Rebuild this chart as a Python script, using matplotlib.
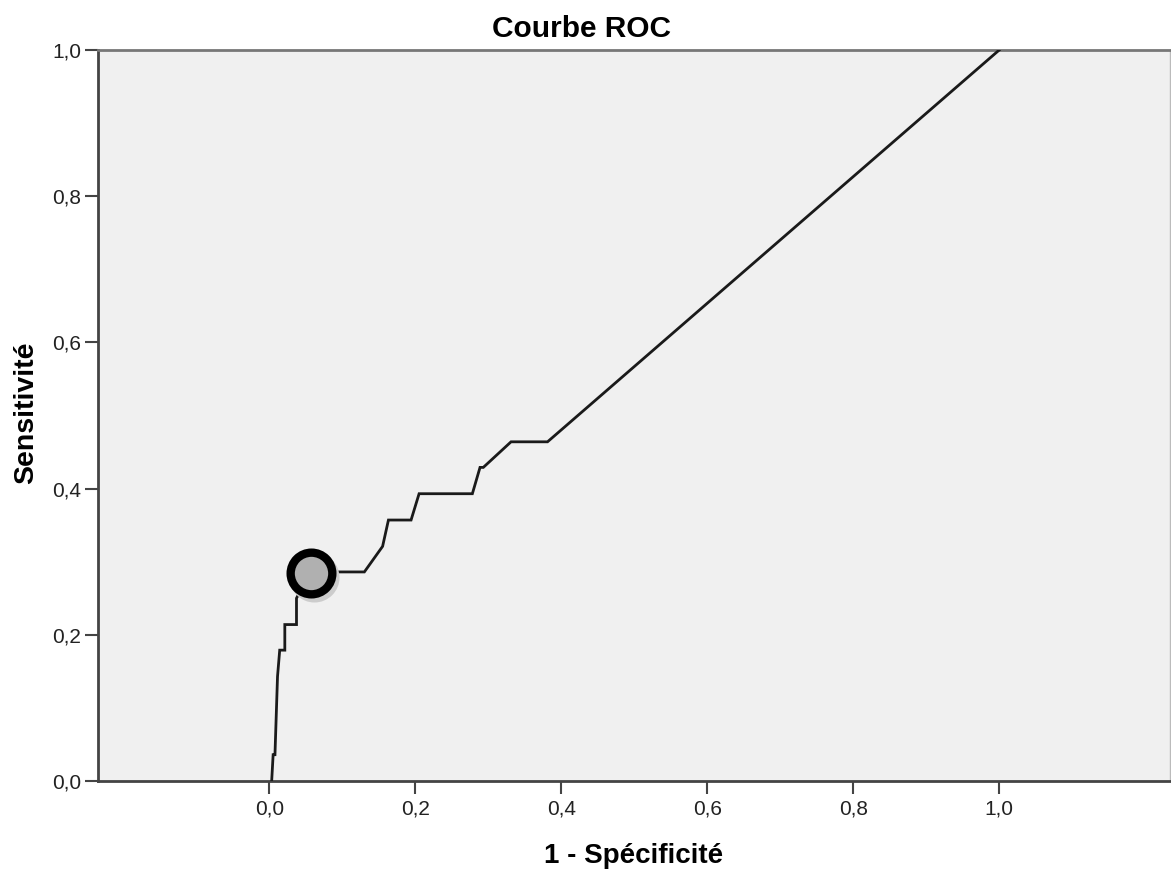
import matplotlib
matplotlib.use("Agg")
import matplotlib.pyplot as plt
import matplotlib.transforms as mtransforms

plt.rcParams['font.family'] = ['Liberation Sans', 'DejaVu Sans']

# ROC curve points (1 - specificity, sensitivity)
fpr = [0.003, 0.005, 0.0075, 0.011, 0.014, 0.021, 0.021, 0.037, 0.037,
       0.0555, 0.130, 0.155, 0.163, 0.194, 0.205, 0.278, 0.2885, 0.293, 0.331,
       0.381, 1.0]
tpr = [0.0, 0.036, 0.036, 0.143, 0.179, 0.179, 0.214, 0.214, 0.25,
       0.286, 0.286, 0.321, 0.357, 0.357, 0.393, 0.393, 0.429, 0.429, 0.464,
       0.464, 1.0]

# highlighted cut-off point
cut_x = [0.057]
cut_y = [0.285]

xticks = [0.0, 0.2, 0.4, 0.6, 0.8, 1.0]
yticks = [0.0, 0.2, 0.4, 0.6, 0.8, 1.0]
tick_labels = ["0,0", "0,2", "0,4", "0,6", "0,8", "1,0"]

W, H = 1171, 872
fig = plt.figure(figsize=(W / 100, H / 100), dpi=100)
ax = fig.add_axes([98 / W, (H - 781) / H, (1170 - 98) / W, (781 - 50) / H])
ax.set_facecolor('#f0f0f0')

ax.plot(fpr, tpr, color='#1a1a1a', lw=2.0, solid_joinstyle='miter', zorder=3)

# shadow of marker
shadow = ax.transData + mtransforms.ScaledTranslation(3 / 100, -4 / 100, fig.dpi_scale_trans)
ax.plot(cut_x, cut_y, marker='o', ms=30, mfc='#cccccc', mec='#cccccc', mew=6,
        ls='none', zorder=3.5, transform=shadow)
ax.plot(cut_x, cut_y, marker='o', ms=30, mfc=(0.62, 0.62, 0.62, 0.6), mec='black', mew=6,
        ls='none', zorder=4)

ax.set_xlim(-0.235, 1.234)
ax.set_ylim(0, 1)
ax.set_xticks(xticks)
ax.set_xticklabels(tick_labels)
ax.set_yticks(yticks)
ax.set_yticklabels(tick_labels)
ax.tick_params(axis='both', direction='out', length=9.4, width=1.5, color='#444444',
               labelsize=15, labelcolor='#222222')
ax.tick_params(axis='x', pad=4)
ax.tick_params(axis='y', pad=2.5)

for s in ['left', 'bottom']:
    ax.spines[s].set_color('#444444')
    ax.spines[s].set_linewidth(2)
ax.spines['top'].set_color('#777777')
ax.spines['top'].set_linewidth(2)
ax.spines['right'].set_color('#bbbbbb')
ax.spines['right'].set_linewidth(1)

fig.text(582 / W, 1 - 37 / H, 'Courbe ROC', fontsize=21.5, fontweight='bold',
         ha='center', va='baseline')
fig.text(634 / W, 1 - 863 / H, '1 - Spécificité', fontsize=20, fontweight='bold',
         ha='center', va='baseline')
fig.text(33 / W, 1 - 413 / H, 'Sensitivité', fontsize=20.5, fontweight='bold',
         ha='center', va='baseline', rotation=90, rotation_mode='anchor')

fig.savefig('out.png', dpi=100)
